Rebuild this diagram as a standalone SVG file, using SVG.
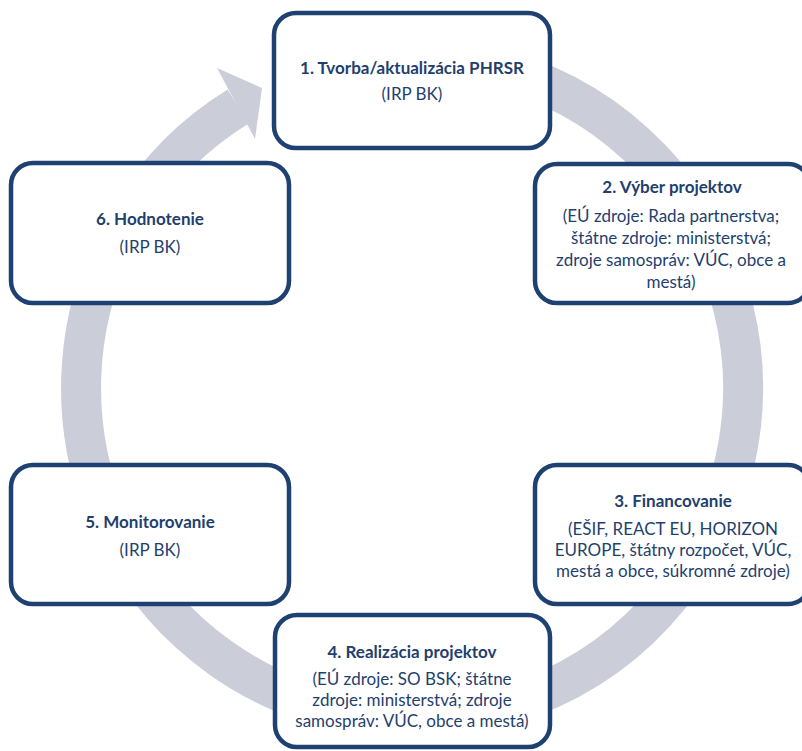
<svg xmlns="http://www.w3.org/2000/svg" width="802" height="751" viewBox="0 0 802 751">
<style>
.box{fill:#FFFFFF;stroke:#1F4172;stroke-width:4.5}
.t{font-family:Lato,"Open Sans","Liberation Sans",sans-serif;font-size:17px;fill:#1F3F6E;text-anchor:middle}
.b{font-weight:bold}
.ring{fill:none;stroke:#CBCED9;stroke-width:40}
</style>
<rect width="802" height="751" fill="#FFFFFF"/>
<g id="connectors">
<path class="ring" d="M354.52,62.03 A331,331 0 1 1 238.1,106.4"/>
<polygon points="217,68 262,88 255,139" fill="#CBCED9"/>
</g>
<g id="node1">
<rect class="box" x="274" y="13" width="276" height="135" rx="22"/>
<text class="t b" x="412" y="74">1. Tvorba/aktualizácia PHRSR</text>
<text class="t" x="412" y="100">(IRP BK)</text>
</g>
<g id="node2">
<rect class="box" x="535" y="164" width="275" height="139" rx="22"/>
<text class="t b" x="672" y="193">2. Výber projektov</text>
<text class="t" x="671" y="222">(EÚ zdroje: Rada partnerstva;</text>
<text class="t" x="671" y="244">štátne zdroje: ministerstvá;</text>
<text class="t" x="671" y="266">zdroje samospráv: VÚC, obce a</text>
<text class="t" x="671" y="288">mestá)</text>
</g>
<g id="node3">
<rect class="box" x="535" y="465" width="275" height="139" rx="22"/>
<text class="t b" x="673" y="507">3. Financovanie</text>
<text class="t" x="673" y="534.5">(EŠIF, REACT EU, HORIZON</text>
<text class="t" x="673" y="555.5">EUROPE, štátny rozpočet, VÚC,</text>
<text class="t" x="673" y="576.5">mestá a obce, súkromné zdroje)</text>
</g>
<g id="node4">
<rect class="box" x="275" y="615" width="275" height="132" rx="22"/>
<text class="t b" x="412" y="658">4. Realizácia projektov</text>
<text class="t" x="412" y="685">(EÚ zdroje: SO BSK; štátne</text>
<text class="t" x="412" y="706">zdroje: ministerstvá; zdroje</text>
<text class="t" x="412" y="727">samospráv: VÚC, obce a mestá)</text>
</g>
<g id="node5">
<rect class="box" x="11" y="465" width="278" height="139" rx="22"/>
<text class="t b" x="150" y="528">5. Monitorovanie</text>
<text class="t" x="150" y="556">(IRP BK)</text>
</g>
<g id="node6">
<rect class="box" x="11" y="163" width="278" height="140" rx="22"/>
<text class="t b" x="150" y="225">6. Hodnotenie</text>
<text class="t" x="150" y="253">(IRP BK)</text>
</g>
</svg>
